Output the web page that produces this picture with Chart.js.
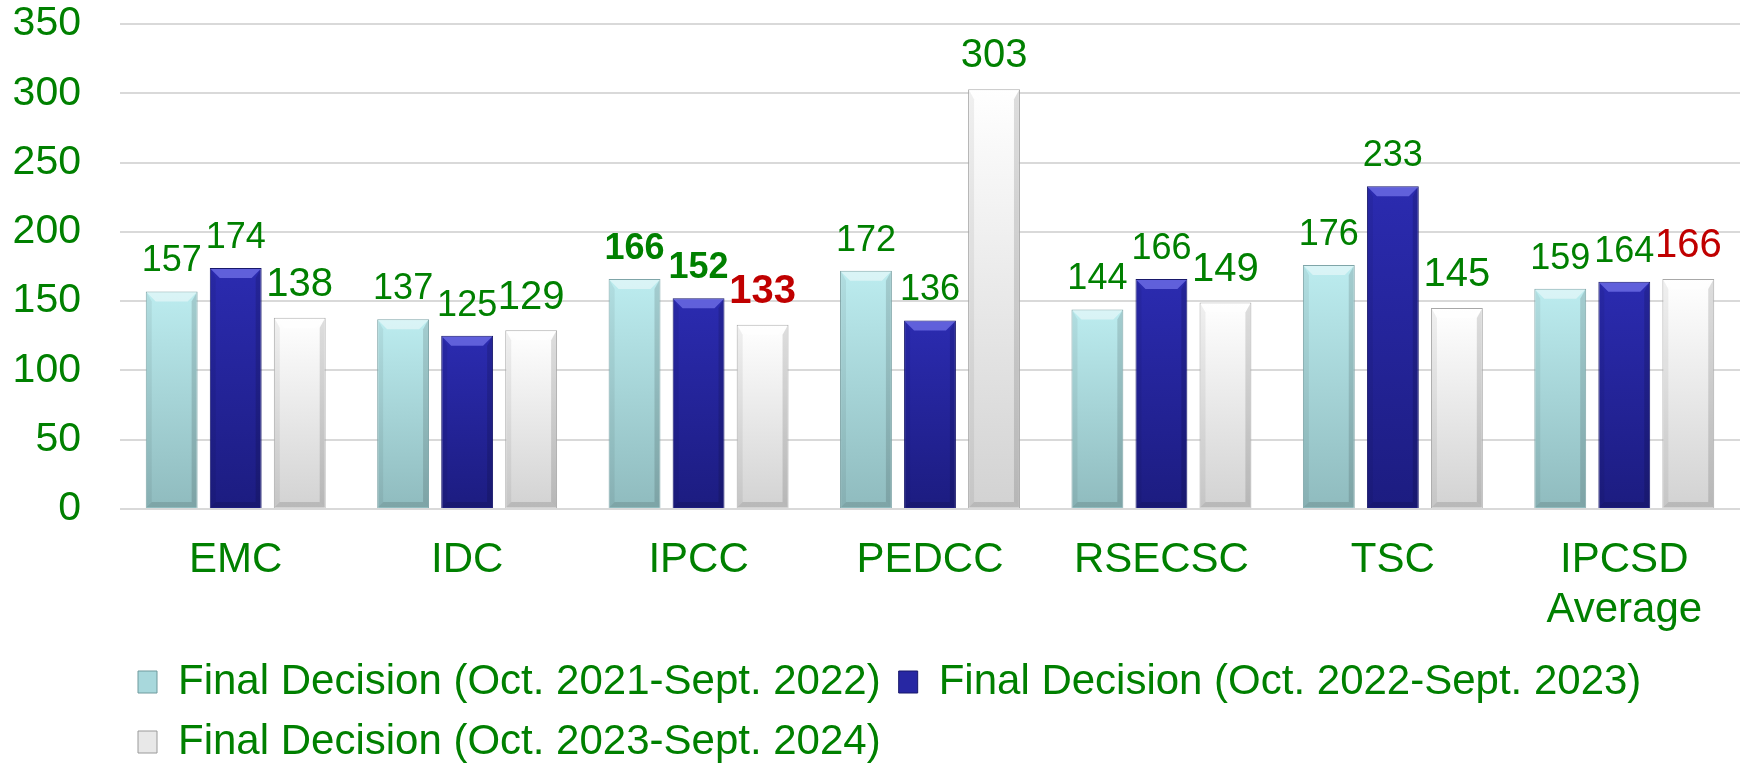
<!DOCTYPE html>
<html><head><meta charset="utf-8">
<script src="https://cdn.jsdelivr.net/npm/chart.js@4"></script>
<style>html,body{margin:0;padding:0;background:#fff;} #wrap{position:relative;width:1746px;height:764px;}</style>
</head><body><div id="wrap"><canvas id="c"></canvas></div>
<script>
const categories = ['EMC', 'IDC', 'IPCC', 'PEDCC', 'RSECSC', 'TSC', ['IPCSD', 'Average']];
const seriesNames = [
  'Final Decision (Oct. 2021-Sept. 2022)',
  'Final Decision (Oct. 2022-Sept. 2023)',
  'Final Decision (Oct. 2023-Sept. 2024)'
];
const fy2022 = [157, 137, 166, 172, 144, 176, 159];
const fy2023 = [174, 125, 152, 136, 166, 233, 164];
const fy2024 = [138, 129, 133, 303, 149, 145, 166];
const yTicks = [0, 50, 100, 150, 200, 250, 300, 350];

// label styles (kept apart from the values)
const GREEN = '#008000', RED = '#c00000';
const labelColors = [
  [GREEN, GREEN, GREEN, GREEN, GREEN, GREEN, GREEN],
  [GREEN, GREEN, GREEN, GREEN, GREEN, GREEN, GREEN],
  [GREEN, GREEN, RED, GREEN, GREEN, GREEN, RED]
];
const labelBold = [
  [0, 0, 1, 0, 0, 0, 0],
  [0, 0, 1, 0, 0, 0, 0],
  [0, 0, 1, 0, 0, 0, 0]
];
const labelSize = [36, 36, 40];
const labelOffset = [33, 33, 36];

const FONT = '"Liberation Sans", Arial, sans-serif';
Chart.defaults.font.family = FONT;

function vGrad(top, bottom) {
  return (ctx) => {
    const ch = ctx.chart, ca = ch.chartArea;
    if (!ca || ctx.type !== 'data') return bottom;
    const ys = ch.scales.y;
    const yT = ys.getPixelForValue(ctx.raw), yB = ys.getPixelForValue(0);
    const g = ch.ctx.createLinearGradient(0, yT, 0, yB);
    g.addColorStop(0, top);
    g.addColorStop(1, bottom);
    return g;
  };
}

const legendFill = ['#a8d8dc', '#2727a3', '#e8e8e8'];
const legendStroke = ['#6f9a9d', '#17176a', '#9a9a9a'];

function poly(c, pts, fill) {
  c.beginPath();
  c.moveTo(pts[0][0], pts[0][1]);
  for (let i = 1; i < pts.length; i++) c.lineTo(pts[i][0], pts[i][1]);
  c.closePath();
  c.fillStyle = fill;
  c.fill();
}

const bevelPlugin = {
  id: 'bevel',
  afterDatasetsDraw(chart) {
    const c = chart.ctx;
    chart.data.datasets.forEach((ds, i) => {
      const meta = chart.getDatasetMeta(i);
      meta.data.forEach((el) => {
        const p = el.getProps(['x', 'y', 'base', 'width'], true);
        const l = p.x - p.width / 2 + 1, r = p.x + p.width / 2 - 1;
        const t = Math.min(p.y, p.base) + 1, b = Math.max(p.y, p.base) - 1;
        const bv = Math.min(9, (b - t) / 2), bs = 5;
        c.save();
        poly(c, [[l, t], [r, t], [r - bv, t + bv], [l + bv, t + bv]], i === 1 ? 'rgba(140,140,255,0.55)' : 'rgba(255,255,255,0.45)');
        poly(c, [[l, t], [l + bs, t + bv], [l + bs, b - bs], [l, b]], 'rgba(0,0,0,0.06)');
        poly(c, [[r, t], [r - bs, t + bv], [r - bs, b - bs], [r, b]], 'rgba(0,0,0,0.13)');
        poly(c, [[l, b], [l + bs, b - bs], [r - bs, b - bs], [r, b]], 'rgba(0,0,0,0.12)');
        c.restore();
      });
    });
  }
};

const valueLabelPlugin = {
  id: 'valueLabels',
  afterDatasetsDraw(chart) {
    const c = chart.ctx;
    chart.data.datasets.forEach((ds, i) => {
      const meta = chart.getDatasetMeta(i);
      meta.data.forEach((el, j) => {
        const fs = labelSize[i];
        c.save();
        c.font = (labelBold[i][j] ? 'bold ' : '') + fs + 'px ' + FONT;
        c.fillStyle = labelColors[i][j];
        c.textAlign = 'center';
        c.textBaseline = 'alphabetic';
        c.fillText(String(ds.data[j]), el.x, el.y - labelOffset[i] + 0.358 * fs);
        c.restore();
      });
    });
  }
};

const common = { barPercentage: 0.81, categoryPercentage: 0.83, borderWidth: 1 };

new Chart(document.getElementById('c'), {
  type: 'bar',
  data: {
    labels: categories,
    datasets: [
      Object.assign({ label: seriesNames[0], data: fy2022, backgroundColor: vGrad('#bcecef', '#8fbbbe'), borderColor: '#7fa5a8' }, common),
      Object.assign({ label: seriesNames[1], data: fy2023, backgroundColor: vGrad('#2b2bb0', '#1c1c80'), borderColor: '#18186a' }, common),
      Object.assign({ label: seriesNames[2], data: fy2024, backgroundColor: vGrad('#ffffff', '#d2d2d2'), borderColor: '#a8a8a8' }, common)
    ]
  },
  options: {
    responsive: true,
    maintainAspectRatio: false,
    animation: false,
    layout: { padding: { left: 0, right: 6, top: 0, bottom: -9 } },
    scales: {
      x: {
        grid: { display: false },
        border: { display: false },
        ticks: { color: GREEN, font: { size: 42, lineHeight: 1.2 }, padding: 18, maxRotation: 0, autoSkip: false },
        afterFit(s) { s.height = 134; }
      },
      y: {
        min: 0, max: 350,
        afterBuildTicks(s) { s.ticks = yTicks.map(v => ({ value: v })); },
        ticks: { color: GREEN, font: { size: 41 }, padding: 39 },
        grid: { color: '#d9d9d9', lineWidth: 2, drawTicks: false },
        border: { display: false },
        afterFit(s) { s.width = 120; s.paddingTop = 24; s.paddingBottom = 24; }
      }
    },
    plugins: {
      tooltip: { enabled: false },
      legend: {
        position: 'bottom',
        align: 'start',
        fullSize: false,
        labels: {
          boxWidth: 19, boxHeight: 22, padding: 18,
          color: GREEN,
          font: { size: 42 },
          generateLabels(chart) {
            const items = Chart.defaults.plugins.legend.labels.generateLabels(chart);
            items.forEach((it, i) => { it.fillStyle = legendFill[i]; it.strokeStyle = legendStroke[i]; it.lineWidth = 1; });
            return items;
          }
        }
      }
    }
  },
  plugins: [bevelPlugin, valueLabelPlugin]
});
</script>
</body></html>
